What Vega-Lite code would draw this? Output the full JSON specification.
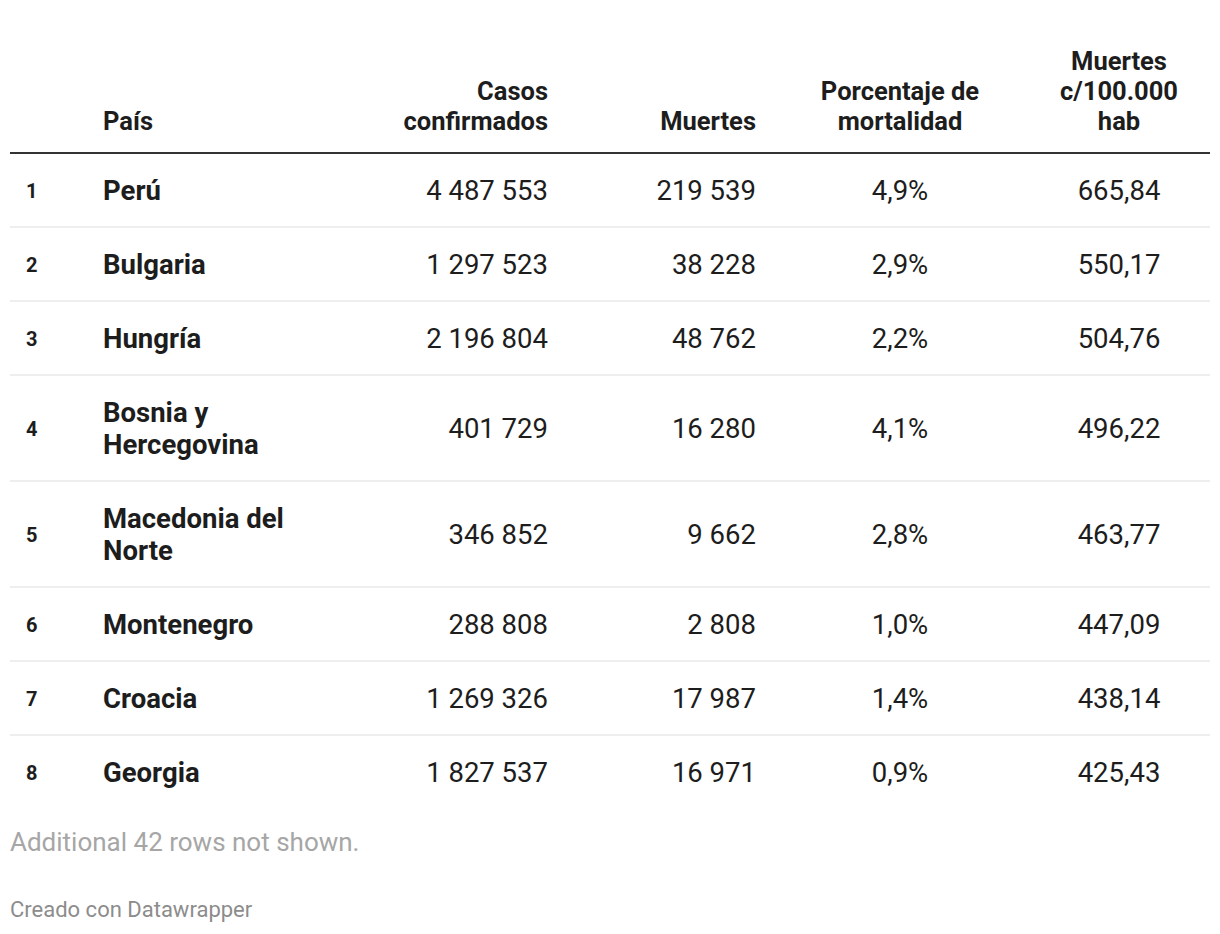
{
  "$schema": "https://vega.github.io/schema/vega-lite/v6.json",
  "width": 1220,
  "height": 934,
  "padding": 0,
  "autosize": {"type": "none"},
  "background": "white",
  "config": {
    "view": {"stroke": null},
    "font": "Roboto",
    "locale": {"number": {"decimal": ",", "thousands": " ", "grouping": [3], "currency": ["", ""]}}
  },
  "datasets": {
    "paises": [
      {"rank": 1, "pais": "Perú", "casos": 4487553, "muertes": 219539, "mortalidad": 0.049, "tasa": 665.84},
      {"rank": 2, "pais": "Bulgaria", "casos": 1297523, "muertes": 38228, "mortalidad": 0.029, "tasa": 550.17},
      {"rank": 3, "pais": "Hungría", "casos": 2196804, "muertes": 48762, "mortalidad": 0.022, "tasa": 504.76},
      {"rank": 4, "pais": "Bosnia y Hercegovina", "casos": 401729, "muertes": 16280, "mortalidad": 0.041, "tasa": 496.22},
      {"rank": 5, "pais": "Macedonia del Norte", "casos": 346852, "muertes": 9662, "mortalidad": 0.028, "tasa": 463.77},
      {"rank": 6, "pais": "Montenegro", "casos": 288808, "muertes": 2808, "mortalidad": 0.010, "tasa": 447.09},
      {"rank": 7, "pais": "Croacia", "casos": 1269326, "muertes": 17987, "mortalidad": 0.014, "tasa": 438.14},
      {"rank": 8, "pais": "Georgia", "casos": 1827537, "muertes": 16971, "mortalidad": 0.009, "tasa": 425.43}
    ],
    "cabeceras": [
      {"columna": "pais", "titulo": ["País"]},
      {"columna": "casos", "titulo": ["Casos", "confirmados"]},
      {"columna": "muertes", "titulo": ["Muertes"]},
      {"columna": "mortalidad", "titulo": ["Porcentaje de", "mortalidad"]},
      {"columna": "tasa", "titulo": ["Muertes", "c/100.000", "hab"]}
    ],
    "notas": [
      {"nota": "filas", "texto": "Additional 42 rows not shown."},
      {"nota": "credito", "texto": "Creado con Datawrapper"}
    ]
  },
  "layer": [
    {
      "data": {"values": [{}]},
      "mark": {"type": "rule", "color": "#333333", "strokeWidth": 2},
      "encoding": {
        "x": {"datum": 10, "type": "quantitative", "scale": {"domain": [0, 1220]}, "axis": null},
        "x2": {"datum": 1210},
        "y": {"datum": 153, "type": "quantitative", "scale": {"domain": [0, 934], "reverse": true}, "axis": null}
      }
    },
    {
      "data": {"name": "cabeceras"},
      "transform": [
        {"calculate": "135 - 30 * (length(datum.titulo) - 1)", "as": "yTitulo"}
      ],
      "layer": [
        {
          "transform": [{"filter": "datum.columna === 'pais'"}],
          "mark": {"type": "text", "align": "left", "fontWeight": "bold", "fontSize": 25.5, "lineHeight": 30, "baseline": "bottom", "color": "#1d1d1d"},
          "encoding": {
            "x": {"datum": 103, "type": "quantitative", "scale": {"domain": [0, 1220]}, "axis": null},
            "y": {"field": "yTitulo", "type": "quantitative", "scale": {"domain": [0, 934], "reverse": true}, "axis": null},
            "text": {"field": "titulo"}
          }
        },
        {
          "transform": [{"filter": "datum.columna === 'casos'"}],
          "mark": {"type": "text", "align": "right", "fontWeight": "bold", "fontSize": 25.5, "lineHeight": 30, "baseline": "bottom", "color": "#1d1d1d"},
          "encoding": {
            "x": {"datum": 548, "type": "quantitative", "scale": {"domain": [0, 1220]}, "axis": null},
            "y": {"field": "yTitulo", "type": "quantitative", "scale": {"domain": [0, 934], "reverse": true}, "axis": null},
            "text": {"field": "titulo"}
          }
        },
        {
          "transform": [{"filter": "datum.columna === 'muertes'"}],
          "mark": {"type": "text", "align": "right", "fontWeight": "bold", "fontSize": 25.5, "lineHeight": 30, "baseline": "bottom", "color": "#1d1d1d"},
          "encoding": {
            "x": {"datum": 756, "type": "quantitative", "scale": {"domain": [0, 1220]}, "axis": null},
            "y": {"field": "yTitulo", "type": "quantitative", "scale": {"domain": [0, 934], "reverse": true}, "axis": null},
            "text": {"field": "titulo"}
          }
        },
        {
          "transform": [{"filter": "datum.columna === 'mortalidad'"}],
          "mark": {"type": "text", "align": "center", "fontWeight": "bold", "fontSize": 25.5, "lineHeight": 30, "baseline": "bottom", "color": "#1d1d1d"},
          "encoding": {
            "x": {"datum": 900, "type": "quantitative", "scale": {"domain": [0, 1220]}, "axis": null},
            "y": {"field": "yTitulo", "type": "quantitative", "scale": {"domain": [0, 934], "reverse": true}, "axis": null},
            "text": {"field": "titulo"}
          }
        },
        {
          "transform": [{"filter": "datum.columna === 'tasa'"}],
          "mark": {"type": "text", "align": "center", "fontWeight": "bold", "fontSize": 25.5, "lineHeight": 30, "baseline": "bottom", "color": "#1d1d1d"},
          "encoding": {
            "x": {"datum": 1119, "type": "quantitative", "scale": {"domain": [0, 1220]}, "axis": null},
            "y": {"field": "yTitulo", "type": "quantitative", "scale": {"domain": [0, 934], "reverse": true}, "axis": null},
            "text": {"field": "titulo"}
          }
        }
      ]
    },
    {
      "data": {"name": "paises"},
      "transform": [
        {"calculate": "length(datum.pais) > 15 ? [substring(datum.pais, 0, lastindexof(substring(datum.pais, 0, 16), ' ')), substring(datum.pais, lastindexof(substring(datum.pais, 0, 16), ' ') + 1)] : [datum.pais]", "as": "lineas"},
        {"calculate": "42 + 32 * length(datum.lineas)", "as": "alto"},
        {"window": [{"op": "sum", "field": "alto", "as": "acumulado"}], "sort": [{"field": "rank", "order": "ascending"}], "frame": [null, 0]},
        {"calculate": "153 + datum.acumulado", "as": "fondo"},
        {"calculate": "datum.fondo - datum.alto / 2", "as": "centro"},
        {"calculate": "datum.centro - 16 * (length(datum.lineas) - 1)", "as": "yPais"}
      ],
      "layer": [
        {
          "transform": [{"filter": "datum.rank < 8"}],
          "mark": {"type": "rule", "color": "#eeeeee", "strokeWidth": 2},
          "encoding": {
            "x": {"datum": 10, "type": "quantitative", "scale": {"domain": [0, 1220]}, "axis": null},
            "x2": {"datum": 1210},
            "y": {"field": "fondo", "type": "quantitative", "scale": {"domain": [0, 934], "reverse": true}, "axis": null}
          }
        },
        {
          "mark": {"type": "text", "align": "left", "baseline": "middle", "dy": 2, "fontWeight": "bold", "fontSize": 20, "color": "#1d1d1d"},
          "encoding": {
            "x": {"datum": 26, "type": "quantitative", "scale": {"domain": [0, 1220]}, "axis": null},
            "y": {"field": "centro", "type": "quantitative", "scale": {"domain": [0, 934], "reverse": true}, "axis": null},
            "text": {"field": "rank", "type": "quantitative", "format": "d"}
          }
        },
        {
          "mark": {"type": "text", "align": "left", "baseline": "middle", "dy": 2, "fontWeight": "bold", "fontSize": 27.5, "lineHeight": 32, "color": "#1d1d1d"},
          "encoding": {
            "x": {"datum": 103, "type": "quantitative", "scale": {"domain": [0, 1220]}, "axis": null},
            "y": {"field": "yPais", "type": "quantitative", "scale": {"domain": [0, 934], "reverse": true}, "axis": null},
            "text": {"field": "lineas"}
          }
        },
        {
          "mark": {"type": "text", "align": "right", "baseline": "middle", "dy": 2, "fontSize": 27.5, "color": "#1d1d1d"},
          "encoding": {
            "x": {"datum": 548, "type": "quantitative", "scale": {"domain": [0, 1220]}, "axis": null},
            "y": {"field": "centro", "type": "quantitative", "scale": {"domain": [0, 934], "reverse": true}, "axis": null},
            "text": {"field": "casos", "type": "quantitative", "format": ",.0f"}
          }
        },
        {
          "mark": {"type": "text", "align": "right", "baseline": "middle", "dy": 2, "fontSize": 27.5, "color": "#1d1d1d"},
          "encoding": {
            "x": {"datum": 756, "type": "quantitative", "scale": {"domain": [0, 1220]}, "axis": null},
            "y": {"field": "centro", "type": "quantitative", "scale": {"domain": [0, 934], "reverse": true}, "axis": null},
            "text": {"field": "muertes", "type": "quantitative", "format": ",.0f"}
          }
        },
        {
          "mark": {"type": "text", "align": "center", "baseline": "middle", "dy": 2, "fontSize": 27.5, "color": "#1d1d1d"},
          "encoding": {
            "x": {"datum": 900, "type": "quantitative", "scale": {"domain": [0, 1220]}, "axis": null},
            "y": {"field": "centro", "type": "quantitative", "scale": {"domain": [0, 934], "reverse": true}, "axis": null},
            "text": {"field": "mortalidad", "type": "quantitative", "format": ".1%"}
          }
        },
        {
          "mark": {"type": "text", "align": "center", "baseline": "middle", "dy": 2, "fontSize": 27.5, "color": "#1d1d1d"},
          "encoding": {
            "x": {"datum": 1119, "type": "quantitative", "scale": {"domain": [0, 1220]}, "axis": null},
            "y": {"field": "centro", "type": "quantitative", "scale": {"domain": [0, 934], "reverse": true}, "axis": null},
            "text": {"field": "tasa", "type": "quantitative", "format": ".2f"}
          }
        }
      ]
    },
    {
      "data": {"name": "notas"},
      "layer": [
        {
          "transform": [{"filter": "datum.nota === 'filas'"}],
          "mark": {"type": "text", "align": "left", "baseline": "middle", "fontSize": 26, "color": "#a6a6a6"},
          "encoding": {
            "x": {"datum": 10, "type": "quantitative", "scale": {"domain": [0, 1220]}, "axis": null},
            "y": {"datum": 843, "type": "quantitative", "scale": {"domain": [0, 934], "reverse": true}, "axis": null},
            "text": {"field": "texto"}
          }
        },
        {
          "transform": [{"filter": "datum.nota === 'credito'"}],
          "mark": {"type": "text", "align": "left", "baseline": "middle", "fontSize": 22, "color": "#8c8c8c"},
          "encoding": {
            "x": {"datum": 10, "type": "quantitative", "scale": {"domain": [0, 1220]}, "axis": null},
            "y": {"datum": 910, "type": "quantitative", "scale": {"domain": [0, 934], "reverse": true}, "axis": null},
            "text": {"field": "texto"}
          }
        }
      ]
    }
  ]
}
